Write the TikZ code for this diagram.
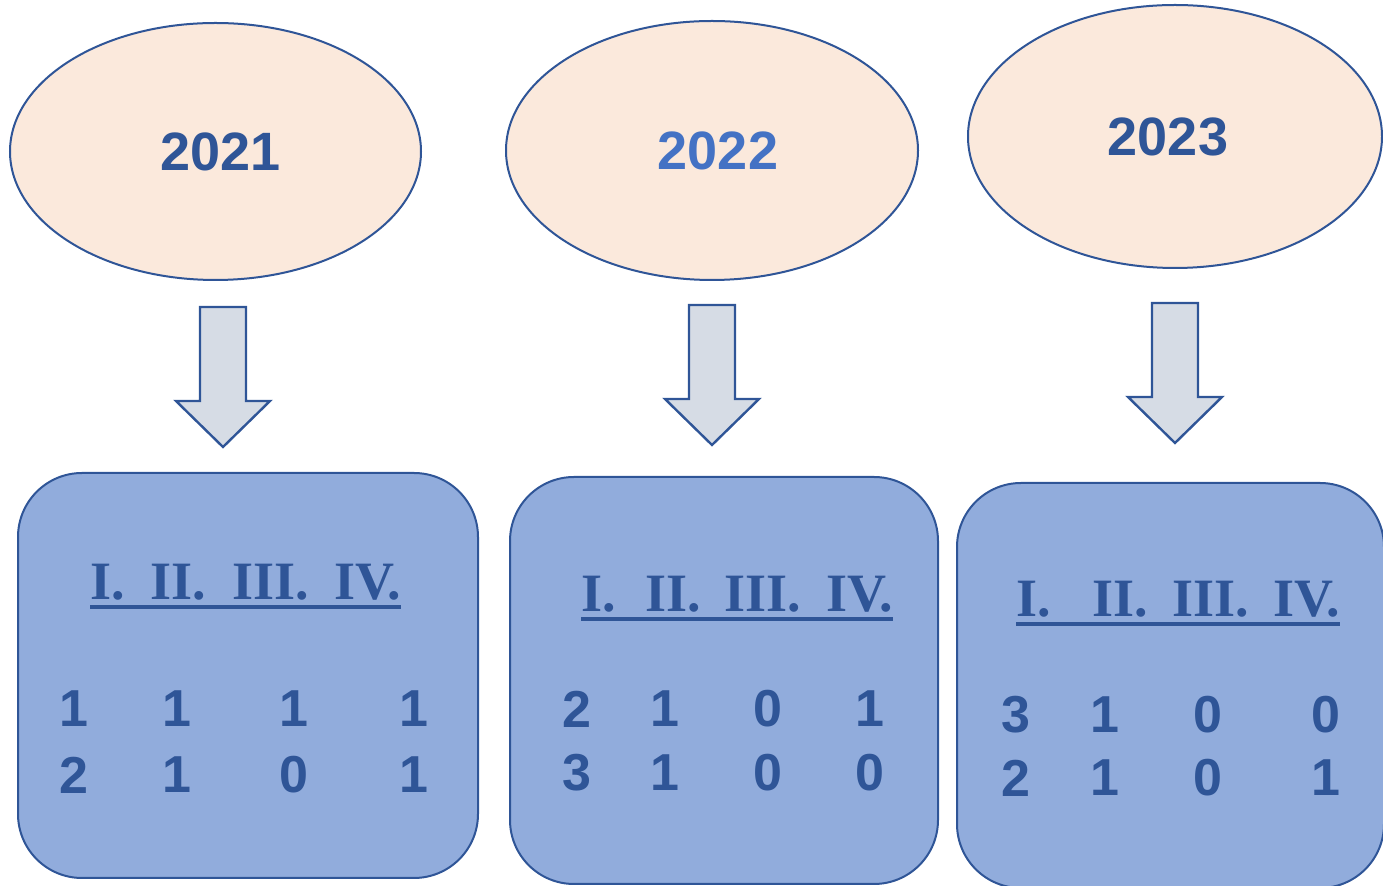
\documentclass[tikz,border=0pt]{standalone}
\usepackage{fontspec}
\setmainfont{Liberation Serif}
\setsansfont{Liberation Sans}
\usetikzlibrary{shapes.geometric}
\definecolor{ovalfill}{HTML}{FBE9DC}
\definecolor{darkblue}{HTML}{2F5597}
\definecolor{midblue}{HTML}{4472C4}
\definecolor{boxfill}{HTML}{91ACDC}
\definecolor{arrowfill}{HTML}{D6DCE5}

\begin{document}
\begin{tikzpicture}[x=0.5pt,y=-0.5pt,line join=miter,
    yearoval/.style={ellipse,draw=darkblue,fill=ovalfill,line width=1pt,inner sep=0pt,
        font=\sffamily\bfseries\fontsize{27}{30}\selectfont,text=darkblue},
    quarterbox/.style={rectangle,rounded corners=32pt,draw=darkblue,fill=boxfill,line width=1pt},
    blockarrow/.style={draw=darkblue,fill=arrowfill,line width=1.2pt},
    roman/.style={inner sep=0pt,anchor=base west,text=darkblue,
        font=\rmfamily\bfseries\fontsize{27}{30}\selectfont},
    digit/.style={inner sep=0pt,text=darkblue,font=\sffamily\bfseries\fontsize{26}{30}\selectfont}]
    \useasboundingbox (0,0) rectangle (1383,886);
    \clip (0,0) rectangle (1383,886);

    % years
    \node[yearoval,minimum width=205.5pt,minimum height=128.5pt] (y21) at (215.5,151.5) {\hspace*{5pt}2021};
    \node[yearoval,minimum width=206pt,minimum height=129.5pt,text=midblue] (y22) at (712,150.5) {\hspace*{6pt}2022};
    \node[yearoval,minimum width=207pt,minimum height=131.5pt] (y23) at (1175,136.5) {2023\kern7pt};

    % arrows
    \foreach \cx/\ty in {223/307, 712/305, 1175/303}
        \draw[blockarrow] (\cx-23,\ty) -- (\cx+23,\ty) -- (\cx+23,\ty+94) -- (\cx+47,\ty+94)
            -- (\cx,\ty+140) -- (\cx-47,\ty+94) -- (\cx-23,\ty+94) -- cycle;

    % boxes
    \node[quarterbox,minimum width=230pt,minimum height=202.5pt] (q21) at (248,675.5) {};
    \node[quarterbox,minimum width=214pt,minimum height=203.5pt] (q22) at (724,680.5) {};
    \node[quarterbox,minimum width=213.5pt,minimum height=202.5pt] (q23) at (1170.5,685.5) {};

    % quarter headings
    \foreach \b/\xa/\xb/\xc/\xd/\yb in {1/90/150/232/334/600, 2/581/645/724/826/612, 3/1016/1092/1172/1273/617} {
        \node[roman] (h\b a) at (\xa,\yb) {I.};
        \node[roman] (h\b b) at (\xb,\yb) {II.};
        \node[roman] (h\b c) at (\xc,\yb) {III.};
        \node[roman] (h\b d) at (\xd,\yb) {IV.};
        \draw[darkblue,line width=1.6pt] ([yshift=-3.5pt]h\b a.base west) -- ([yshift=-3.5pt]h\b d.base east);
    }

    % counts
    \foreach \x/\u/\l [count=\i] in {74/1/2, 177/1/1, 294/1/0, 414/1/1} {
        \node[digit] (a\i) at (\x,709) {\u};
        \node[digit] (b\i) at (\x,775) {\l};
    }
    \foreach \x/\u/\l [count=\i] in {577/2/3, 665/1/1, 768/0/0, 870/1/0} {
        \node[digit] (c\i) at (\x,709) {\u};
        \node[digit] (d\i) at (\x,773) {\l};
    }
    \foreach \x/\u/\l [count=\i] in {1016/3/2, 1105/1/1, 1208/0/0, 1326/0/1} {
        \node[digit] (e\i) at (\x,715) {\u};
        \node[digit] (f\i) at (\x,778) {\l};
    }
\end{tikzpicture}
\end{document}
